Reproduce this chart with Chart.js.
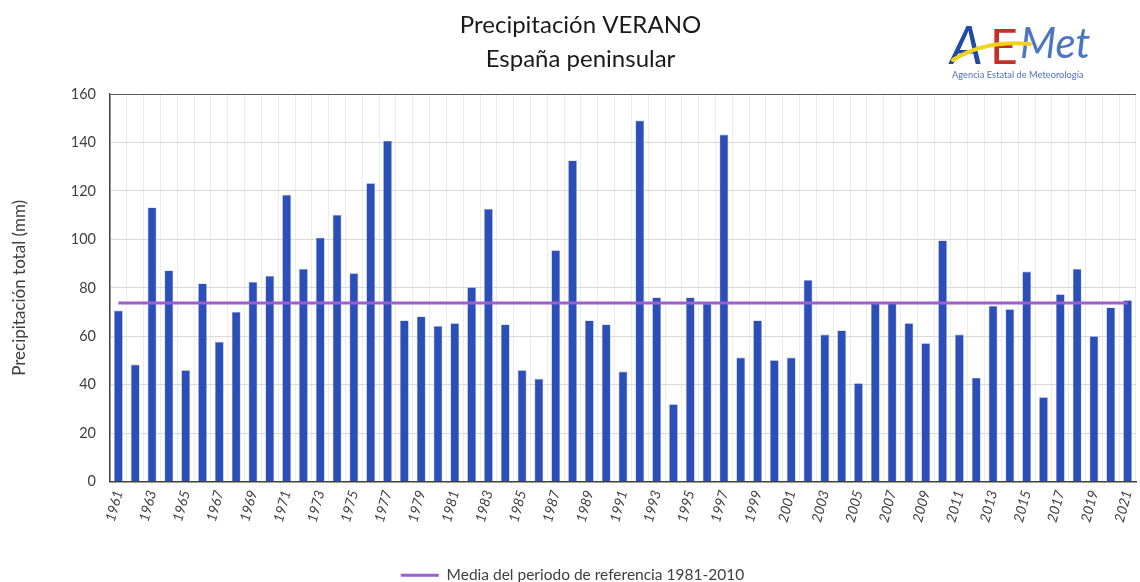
<!DOCTYPE html>
<html>
<head>
<meta charset="utf-8">
<script src="https://cdn.jsdelivr.net/npm/chart.js@4.4.1/dist/chart.umd.min.js"></script>
<style>
  html, body { margin: 0; padding: 0; background: #fff; }
  #wrap { width: 1140px; height: 582px; }
</style>
</head>
<body>
<div id="wrap"><canvas id="chart"></canvas></div>
<script>
// años 1961-2021
const years = Array.from({ length: 61 }, (_, i) => String(1961 + i));

// precipitación total de verano (mm)
const precip = [
  70.6, 48.3, 113.2, 87.2, 46.0, 81.8, 57.7, 70.1, 82.5, 84.9,
  118.4, 87.8, 100.7, 110.1, 86.0, 123.2, 140.8, 66.5, 68.2, 64.2,
  65.4, 80.2, 112.6, 64.9, 46.0, 42.4, 95.5, 132.6, 66.5, 64.9,
  45.4, 149.1, 76.0, 31.9, 76.0, 73.5, 143.3, 51.2, 66.5, 50.1,
  51.2, 83.2, 60.7, 62.4, 40.6, 73.7, 73.7, 65.4, 57.1, 99.6,
  60.7, 42.9, 72.5, 71.2, 86.7, 34.8, 77.3, 87.8, 60.0, 71.9, 74.9
];

// media del periodo de referencia 1981-2010
const mediaRef = 73.7;
const mediaLine = years.map(() => mediaRef);

const yTicks = [0, 20, 40, 60, 80, 100, 120, 140, 160];

const FONT = 'Lato, "Open Sans", sans-serif';

// desplaza un poco el título a la derecha, como en el original
const titleShift = {
  id: 'titleShift',
  afterLayout(chart) {
    if (chart.titleBlock) {
      chart.titleBlock.left += 8;
      chart.titleBlock.right += 8;
    }
  }
};

// logo AEMET dibujado en el canvas
const logoPlugin = {
  id: 'logo',
  afterDraw(chart) {
    const ctx = chart.ctx;
    ctx.save();
    ctx.lineCap = 'round';
    ctx.textBaseline = 'alphabetic';
    ctx.fillStyle = '#1f4aa6';
    ctx.font = 'italic 52px ' + FONT;
    ctx.fillText('A', 950, 64);
    ctx.fillStyle = '#c42f28';
    ctx.font = '48px ' + FONT;
    ctx.fillText('E', 990, 64);
    ctx.fillStyle = '#4a76c2';
    ctx.font = 'italic 42px ' + FONT;
    ctx.fillText('Met', 1020, 58);
    ctx.strokeStyle = '#f2d21b';
    ctx.lineWidth = 4;
    ctx.beginPath();
    ctx.moveTo(953, 60);
    ctx.quadraticCurveTo(985, 40, 1030, 44);
    ctx.stroke();
    ctx.fillStyle = '#4f6fc0';
    ctx.font = '9.3px ' + FONT;
    ctx.fillText('Agencia Estatal de Meteorología', 952, 78);
    ctx.restore();
  }
};

new Chart(document.getElementById('chart'), {
  data: {
    labels: years,
    datasets: [
      {
        type: 'line',
        label: 'Media del periodo de referencia 1981-2010',
        data: mediaLine,
        borderColor: '#9b5fd0',
        backgroundColor: '#9b5fd0',
        borderWidth: 3,
        pointRadius: 0,
        order: 0
      },
      {
        type: 'bar',
        label: 'Precipitación',
        data: precip,
        backgroundColor: '#2b4eb8',
        borderColor: '#8fa3dd',
        borderWidth: 0.6,
        categoryPercentage: 1,
        barPercentage: 0.52,
        order: 1
      }
    ]
  },
  options: {
    responsive: true,
    maintainAspectRatio: false,
    animation: false,
    layout: { padding: { left: 9, right: 4, top: 0, bottom: -11 } },
    plugins: {
      title: {
        display: true,
        text: ['Precipitación VERANO', 'España peninsular'],
        color: '#1a1a1a',
        font: { family: FONT, size: 24, weight: 'normal', lineHeight: 1.42 },
        padding: { top: 8, bottom: 18 }
      },
      legend: {
        position: 'bottom',
        labels: {
          filter: (item) => item.datasetIndex === 0,
          usePointStyle: true,
          pointStyle: 'line',
          pointStyleWidth: 38,
          color: '#404040',
          font: { family: FONT, size: 15.5 },
          padding: 0
        }
      },
      tooltip: { enabled: false }
    },
    scales: {
      x: {
        grid: { color: '#ececec', offset: true, drawTicks: false },
        border: { color: '#404040', width: 1.5 },
        ticks: {
          autoSkip: false,
          maxRotation: 75,
          minRotation: 75,
          padding: 7,
          color: '#404040',
          font: { family: FONT, size: 14, style: 'italic' },
          callback: (val, i) => (i % 2 === 0 ? years[i] : '')
        },
        afterFit: (scale) => {
          scale.height = 86;
          scale.paddingRight = 0;
        }
      },
      y: {
        min: 0,
        max: 160,
        afterBuildTicks: (scale) => { scale.ticks = yTicks.map(v => ({ value: v })); },
        grid: {
          color: (c) => (c.tick && c.tick.value === 160 ? '#595959' : '#d9d9d9'),
          drawTicks: false
        },
        border: { color: '#404040', width: 1.5 },
        ticks: {
          padding: 14,
          color: '#404040',
          font: { family: FONT, size: 14.5 }
        },
        title: {
          display: true,
          text: 'Precipitación total (mm)',
          color: '#404040',
          font: { family: FONT, size: 17 },
          padding: 0
        },
        afterFit: (scale) => { scale.width = 101; }
      }
    }
  },
  plugins: [titleShift, logoPlugin]
});
</script>
</body>
</html>
